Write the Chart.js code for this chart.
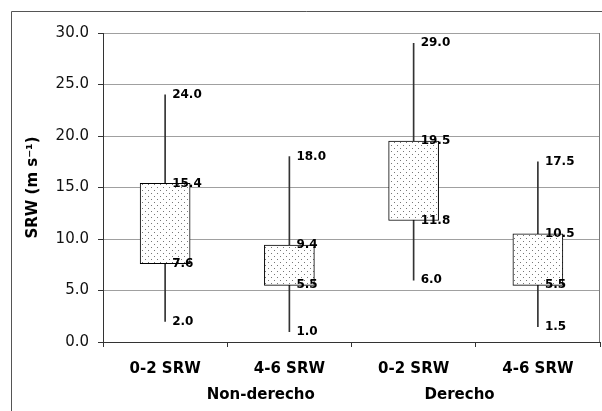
<!DOCTYPE html>
<html>
<head>
<meta charset="utf-8">
<script src="https://cdn.jsdelivr.net/npm/chart.js@4.4.0/dist/chart.umd.min.js"></script>
<style>
  html, body { margin: 0; padding: 0; background: #fff; }
  #wrap { width: 602px; height: 411px; position: relative; }
</style>
</head>
<body>
<div id="wrap"><canvas id="c" width="602" height="411"></canvas></div>
<script>
// ---- data ----
const categories = ['0-2 SRW', '4-6 SRW', '0-2 SRW', '4-6 SRW'];
const groups = ['Non-derecho', 'Derecho'];
const minVals = [2.0, 1.0, 6.0, 1.5];
const q1Vals  = [7.6, 5.5, 11.8, 5.5];
const q3Vals  = [15.4, 9.4, 19.5, 10.5];
const maxVals = [24.0, 18.0, 29.0, 17.5];
const yTicks  = [0, 5, 10, 15, 20, 25, 30];

// dotted fill pattern
function makePattern() {
  const p = document.createElement('canvas');
  p.width = 6; p.height = 6;
  const g = p.getContext('2d');
  g.fillStyle = '#fff'; g.fillRect(0, 0, 6, 6);
  g.fillStyle = '#777';
  g.fillRect(1, 1, 1, 1);
  g.fillRect(4, 4, 1, 1);
  return g.createPattern(p, 'repeat');
}
const dotPattern = makePattern();

const boxData = categories.map((c, i) => [q1Vals[i], q3Vals[i]]);
const whiskerData = categories.map((c, i) => [minVals[i], maxVals[i]]);

const decoPlugin = {
  id: 'deco',
  beforeDraw(chart) {
    const ctx = chart.ctx;
    ctx.save();
    ctx.fillStyle = '#fff';
    ctx.fillRect(0, 0, chart.width, chart.height);
    // outer frame (left + top)
    ctx.strokeStyle = '#555';
    ctx.lineWidth = 1;
    ctx.beginPath();
    ctx.moveTo(11.5, 411);
    ctx.lineTo(11.5, 11.5);
    ctx.lineTo(602, 11.5);
    ctx.stroke();
    ctx.restore();
  },
  afterDatasetsDraw(chart) {
    const ctx = chart.ctx;
    const x = chart.scales.x, y = chart.scales.y;
    const a = chart.chartArea;
    ctx.save();
    // right border of plot
    ctx.strokeStyle = '#777';
    ctx.lineWidth = 1;
    ctx.beginPath();
    ctx.moveTo(Math.round(a.right) - 0.5, a.top);
    ctx.lineTo(Math.round(a.right) - 0.5, a.bottom);
    ctx.stroke();
    // value labels
    ctx.fillStyle = '#000';
    ctx.font = 'bold 12px "DejaVu Sans"';
    ctx.textAlign = 'left';
    ctx.textBaseline = 'middle';
    categories.forEach((c, i) => {
      const cx = x.getPixelForValue(i) + 7;
      [maxVals[i], q3Vals[i], q1Vals[i], minVals[i]].forEach(v => {
        ctx.fillText(v.toFixed(1), cx, y.getPixelForValue(v));
      });
    });
    // group labels
    ctx.textAlign = 'center';
    ctx.font = 'bold 15px "DejaVu Sans"';
    const p0 = x.getPixelForValue(0), p1 = x.getPixelForValue(1);
    const p2 = x.getPixelForValue(2), p3 = x.getPixelForValue(3);
    ctx.fillText(groups[0], p0 + (p1 - p0) * 0.77, 395);
    ctx.fillText(groups[1], p2 + (p3 - p2) * 0.37, 395);
    ctx.restore();
  }
};

new Chart(document.getElementById('c'), {
  type: 'bar',
  data: {
    labels: categories,
    datasets: [
      {
        label: 'IQR',
        data: boxData,
        backgroundColor: dotPattern,
        borderColor: '#000',
        borderWidth: 1,
        borderSkipped: false,
        barThickness: 50,
        grouped: false,
        order: 0
      },
      {
        label: 'Range',
        data: whiskerData,
        backgroundColor: '#333',
        borderWidth: 0,
        barThickness: 1,
        grouped: false,
        order: 1
      }
    ]
  },
  options: {
    responsive: false,
    animation: false,
    devicePixelRatio: 1,
    layout: { padding: { top: 33, right: 2, left: 0, bottom: 0 } },
    plugins: {
      legend: { display: false },
      tooltip: { enabled: false }
    },
    scales: {
      x: {
        offset: true,
        afterFit(s) { s.height = 69; },
        grid: {
          display: true,
          offset: true,
          drawOnChartArea: false,
          drawTicks: true,
          tickLength: 5,
          tickColor: '#333'
        },
        border: { display: true, color: '#333', width: 1 },
        ticks: {
          color: '#000',
          padding: 13,
          font: { family: 'DejaVu Sans', size: 15, weight: 'bold' }
        }
      },
      y: {
        min: 0,
        max: 30,
        afterFit(s) { s.width = 103; },
        afterBuildTicks(s) { s.ticks = yTicks.map(v => ({ value: v })); },
        grid: {
          color: '#a0a0a0',
          lineWidth: 1,
          drawTicks: true,
          tickLength: 5,
          tickColor: '#333'
        },
        border: { display: true, color: '#333', width: 1 },
        ticks: {
          color: '#111',
          padding: 9,
          font: { family: 'DejaVu Sans', size: 15 },
          callback: v => Number(v).toFixed(1)
        },
        title: {
          display: true,
          text: 'SRW (m s\u207B\u00B9)',
          color: '#000',
          font: { family: 'DejaVu Sans', size: 15, weight: 'bold' },
          padding: { top: 24, bottom: 0 }
        }
      }
    }
  },
  plugins: [decoPlugin]
});
</script>
</body>
</html>
